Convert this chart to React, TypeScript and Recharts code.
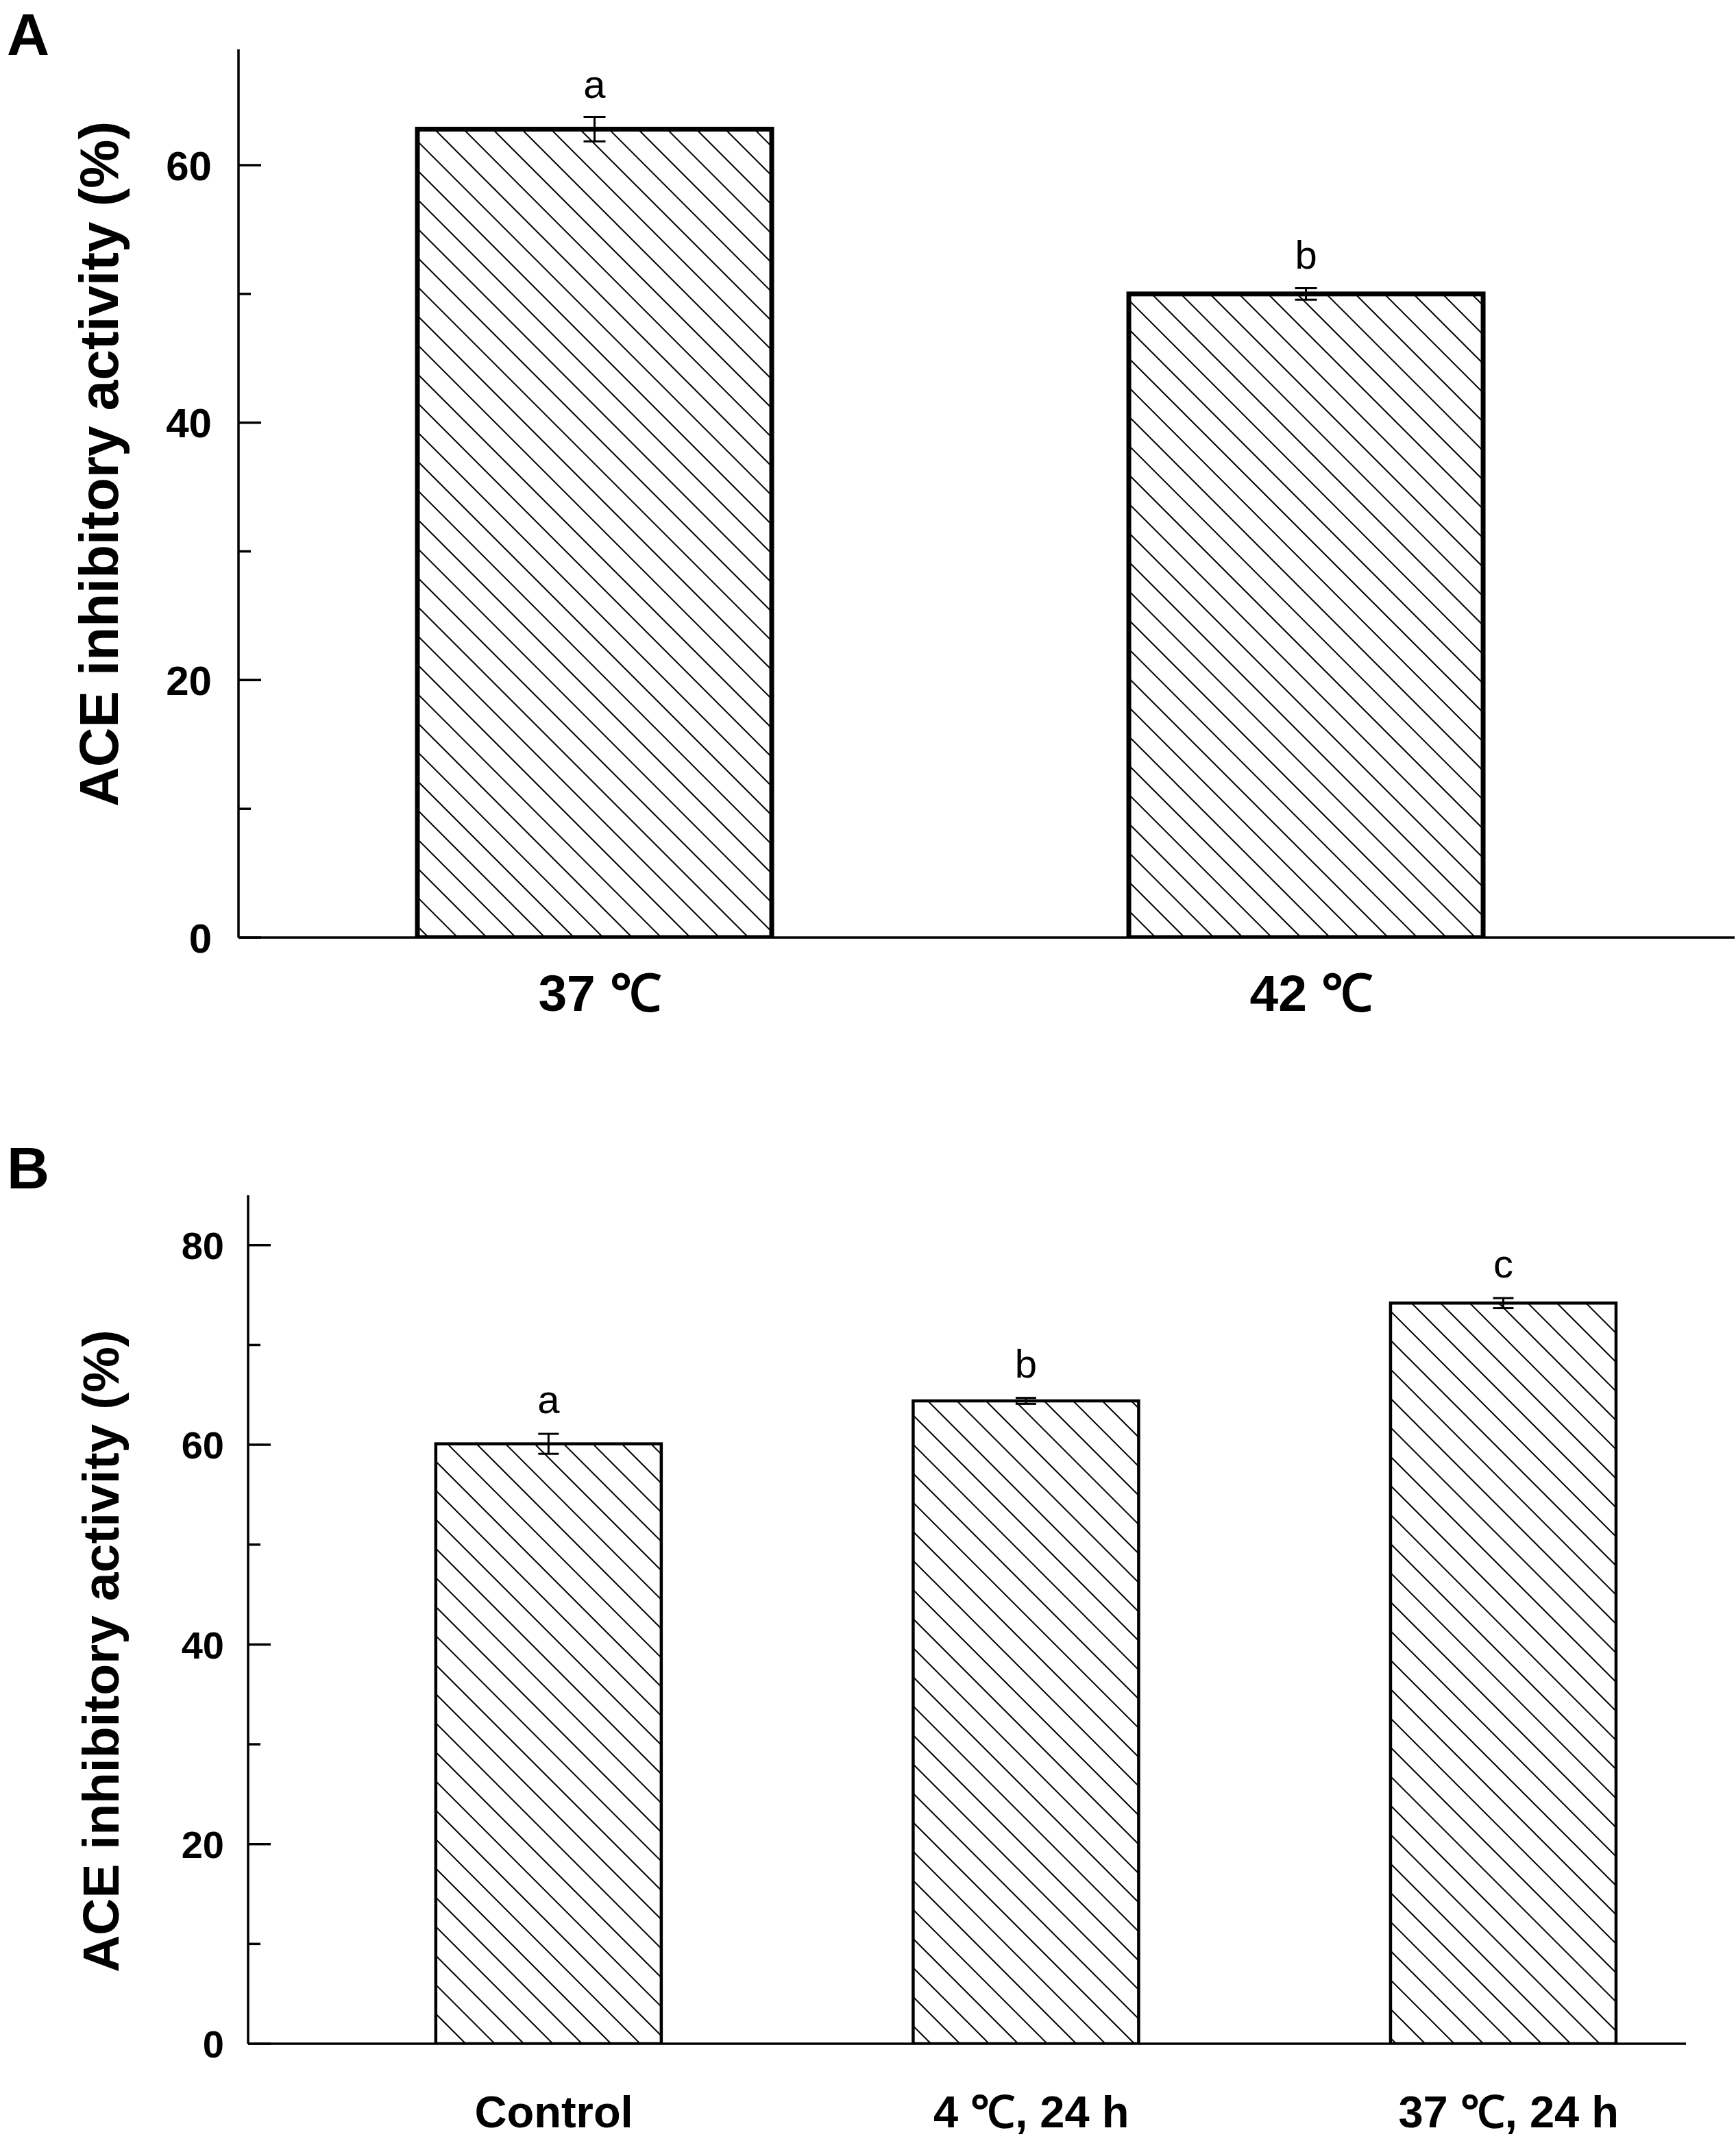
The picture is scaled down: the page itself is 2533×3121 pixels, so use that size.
import React from "react";
import { BarChart, Bar, XAxis, YAxis, ErrorBar } from "recharts";

// Panel A: fermentation temperature
const categoriesA = ["37 ℃", "42 ℃"];
const valuesA = [62.8, 50.0];
const errorsA = [0.95, 0.45];
const lettersA = ["a", "b"];
const yTicksA = [0, 10, 20, 30, 40, 50, 60];

// Panel B: storage condition
const categoriesB = ["Control", "4 ℃, 24 h", "37 ℃, 24 h"];
const valuesB = [60.1, 64.4, 74.2];
const errorsB = [1.0, 0.3, 0.5];
const lettersB = ["a", "b", "c"];
const yTicksB = [0, 10, 20, 30, 40, 50, 60, 70, 80];

const FONT = "'Liberation Sans', Arial, Helvetica, sans-serif";
const W = 2533;

const dataA = categoriesA.map((name, i) => ({
  x: i + 1,
  name,
  value: valuesA[i],
  err: errorsA[i],
  letter: lettersA[i],
}));

const dataB = categoriesB.map((name, i) => ({
  x: i + 1,
  name,
  value: valuesB[i],
  err: errorsB[i],
  letter: lettersB[i],
}));

// bar with hatch fill, plus the significance letter above the error bar
const HatchBar = (props: any) => {
  const { x, y, width, height, payload, sw, letterGap } = props;
  if (!height) return null;
  const perUnit = height / payload.value;
  const errTop = y - payload.err * perUnit;
  return (
    <g>
      <rect
        x={x}
        y={y}
        width={width}
        height={height}
        fill="url(#hatch)"
        stroke="#000"
        strokeWidth={sw}
      />
      <text
        x={x + width / 2}
        y={errTop - letterGap}
        textAnchor="middle"
        fontFamily={FONT}
        fontSize={58}
        fill="#000"
      >
        {payload.letter}
      </text>
    </g>
  );
};

// y ticks drawn inside the axis, labels only on multiples of 20
const YTick = (props: any) => {
  const { x, y, payload, fontSize, gap } = props;
  const v = payload.value;
  const major = v % 20 === 0;
  return (
    <g>
      <line
        x1={x}
        x2={x + (major ? 33 : 18)}
        y1={y}
        y2={y}
        stroke="#000"
        strokeWidth={3.5}
      />
      {major && (
        <text
          x={x - gap}
          y={y}
          dy="0.36em"
          textAnchor="end"
          fontFamily={FONT}
          fontWeight="bold"
          fontSize={fontSize}
          fill="#000"
        >
          {v}
        </text>
      )}
    </g>
  );
};

const XTick = (props: any) => {
  const { x, y, payload, labels, fontSize, offset } = props;
  return (
    <text
      x={x + 8}
      y={y + offset}
      textAnchor="middle"
      fontFamily={FONT}
      fontWeight="bold"
      fontSize={fontSize}
      fill="#000"
    >
      {labels[payload.value - 1]}
    </text>
  );
};

export default function App() {
  return (
    <div
      style={{
        position: "absolute",
        left: 0,
        top: 0,
        width: W,
        height: 3121,
        background: "#fff",
      }}
    >
      <svg width={0} height={0} style={{ position: "absolute" }}>
        <defs>
          <pattern
            id="hatch"
            patternUnits="userSpaceOnUse"
            width={30}
            height={30}
            patternTransform="rotate(-45)"
          >
            <rect width={30} height={30} fill="#fff" />
            <line x1={15} y1={0} x2={15} y2={30} stroke="#000" strokeWidth={2} />
          </pattern>
        </defs>
      </svg>

      {/* Panel A */}
      <div style={{ position: "absolute", left: 0, top: 0 }}>
        <BarChart
          width={W}
          height={1560}
          data={dataA}
          margin={{ top: 72, right: 2, bottom: 0, left: 0 }}
        >
          <XAxis
            dataKey="x"
            type="number"
            domain={[0.5, 2.603]}
            allowDataOverflow
            ticks={[1, 2]}
            interval={0}
            height={192}
            tickLine={false}
            tickSize={0}
            tickMargin={0}
            axisLine={{ stroke: "#000", strokeWidth: 3.5 }}
            tick={<XTick labels={categoriesA} fontSize={75} offset={107} />}
          />
          <YAxis
            type="number"
            domain={[0, 69]}
            allowDataOverflow
            ticks={yTicksA}
            interval={0}
            width={348}
            tickLine={false}
            tickSize={0}
            tickMargin={0}
            axisLine={{ stroke: "#000", strokeWidth: 3.5 }}
            tick={<YTick fontSize={60} gap={39} />}
          />
          <Bar
            dataKey="value"
            barSize={517}
            isAnimationActive={false}
            shape={(p: any) => <HatchBar {...p} sw={7} letterGap={28} />}
          >
            <ErrorBar
              dataKey="err"
              width={16}
              stroke="#000"
              strokeWidth={3}
              direction="y"
            />
          </Bar>
        </BarChart>
      </div>

      {/* Panel B */}
      <div style={{ position: "absolute", left: 0, top: 1560 }}>
        <BarChart
          width={W}
          height={1561}
          data={dataB}
          margin={{ top: 184, right: 73, bottom: 0, left: 0 }}
        >
          <XAxis
            dataKey="x"
            type="number"
            domain={[0.371, 3.383]}
            allowDataOverflow
            ticks={[1, 2, 3]}
            interval={0}
            height={139}
            tickLine={false}
            tickSize={0}
            tickMargin={0}
            axisLine={{ stroke: "#000", strokeWidth: 3.5 }}
            tick={<XTick labels={categoriesB} fontSize={65} offset={122} />}
          />
          <YAxis
            type="number"
            domain={[0, 85]}
            allowDataOverflow
            ticks={yTicksB}
            interval={0}
            width={362}
            tickLine={false}
            tickSize={0}
            tickMargin={0}
            axisLine={{ stroke: "#000", strokeWidth: 3.5 }}
            tick={<YTick fontSize={56} gap={35} />}
          />
          <Bar
            dataKey="value"
            barSize={329}
            isAnimationActive={false}
            shape={(p: any) => <HatchBar {...p} sw={4.5} letterGap={30} />}
          >
            <ErrorBar
              dataKey="err"
              width={15}
              stroke="#000"
              strokeWidth={3}
              direction="y"
            />
          </Bar>
        </BarChart>
      </div>

      {/* panel letters and y-axis titles */}
      <svg
        width={W}
        height={3121}
        style={{ position: "absolute", left: 0, top: 0, pointerEvents: "none" }}
      >
        <text x={10} y={80} fontFamily={FONT} fontWeight="bold" fontSize={86} fill="#000">
          A
        </text>
        <text x={10} y={1734} fontFamily={FONT} fontWeight="bold" fontSize={86} fill="#000">
          B
        </text>
        <text
          transform="translate(172,677) rotate(-90)"
          textAnchor="middle"
          fontFamily={FONT}
          fontWeight="bold"
          fontSize={80}
          fill="#000"
        >
          ACE inhibitory activity (%)
        </text>
        <text
          transform="translate(173,2409) rotate(-90)"
          textAnchor="middle"
          fontFamily={FONT}
          fontWeight="bold"
          fontSize={75}
          fill="#000"
        >
          ACE inhibitory activity (%)
        </text>
      </svg>
    </div>
  );
}
